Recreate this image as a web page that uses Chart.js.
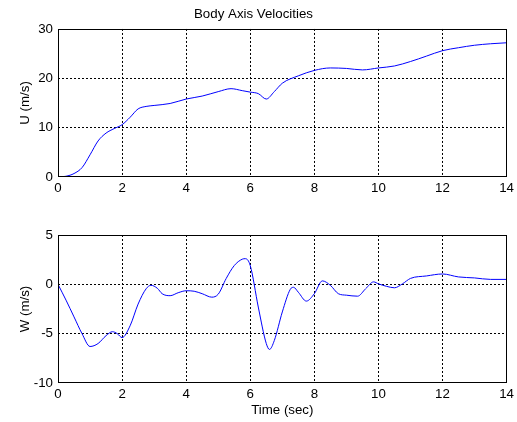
<!DOCTYPE html>
<html>
<head>
<meta charset="utf-8">
<script src="https://cdn.jsdelivr.net/npm/chart.js@4/dist/chart.umd.min.js"></script>
<style>
  html, body { margin: 0; padding: 0; background: #fff; }
  #wrap { position: relative; width: 517px; height: 422px; }
  #cU { position: absolute; left: 0; top: 0; }
  #cW { position: absolute; left: 0; top: 205px; }
</style>
</head>
<body>
<div id="wrap">
  <canvas id="cU" width="517" height="205"></canvas>
  <canvas id="cW" width="517" height="217"></canvas>
</div>
<script>
// Forward body-axis velocity U (m/s)
const timeU = [0, 0.25, 0.5, 0.75, 1.0, 1.25, 1.5, 1.75, 2.0, 2.25, 2.5, 2.75, 3.0, 3.5, 4.0, 4.5, 5.0, 5.4, 5.75, 6.0, 6.25, 6.5, 6.75, 7.0, 7.5, 8.0, 8.5, 9.0, 9.5, 10.0, 10.5, 11.0, 11.5, 12.0, 12.5, 13.0, 13.5, 14.0];
const uValues = [0, 0.15, 0.7, 1.9, 4.5, 7.3, 8.9, 9.8, 10.6, 12.1, 13.8, 14.3, 14.5, 14.9, 15.8, 16.4, 17.3, 17.9, 17.5, 17.2, 16.9, 15.8, 17.3, 19.0, 20.5, 21.6, 22.1, 22.0, 21.7, 22.1, 22.5, 23.4, 24.5, 25.6, 26.2, 26.7, 27.0, 27.2];

// Vertical body-axis velocity W (m/s)
const timeW = [0, 0.25, 0.5, 0.75, 1.0, 1.25, 1.5, 1.7, 1.85, 2.0, 2.25, 2.5, 2.75, 2.9, 3.1, 3.25, 3.5, 3.75, 4.0, 4.25, 4.5, 4.8, 5.0, 5.25, 5.5, 5.75, 5.85, 6.0, 6.25, 6.5, 6.6, 6.75, 7.0, 7.25, 7.35, 7.5, 7.75, 8.0, 8.25, 8.5, 8.75, 9.0, 9.35, 9.6, 9.85, 10.0, 10.25, 10.5, 10.75, 11.0, 11.5, 12.0, 12.5, 13.0, 13.5, 14.0];
const wValues = [0, -1.6, -3.3, -5.0, -6.3, -6.0, -5.2, -4.8, -5.0, -5.4, -4.2, -2.0, -0.45, -0.1, -0.4, -0.95, -1.15, -0.85, -0.65, -0.7, -0.95, -1.3, -1.0, 0.6, 1.9, 2.55, 2.6, 1.9, -2.3, -6.0, -6.6, -5.7, -2.8, -0.5, -0.3, -0.8, -1.7, -0.95, 0.35, -0.1, -0.95, -1.1, -1.2, -0.45, 0.25, 0.05, -0.2, -0.35, 0.05, 0.6, 0.85, 1.05, 0.75, 0.65, 0.5, 0.5];

// Axis ranges and tick spacing
const timeRange = [0, 14];
const timeStep = 2;
const uRange = [0, 30];
const uStep = 10;
const wRange = [-10, 5];
const wStep = 5;

const FONT = "'Liberation Sans', Arial, sans-serif";
const FSIZE = 13.3;

// Solid box round the plot area
const frame = {
  id: 'frame',
  afterDatasetsDraw(chart) {
    const a = chart.chartArea, ctx = chart.ctx;
    ctx.save();
    ctx.strokeStyle = '#000';
    ctx.lineWidth = 1;
    ctx.setLineDash([]);
    ctx.strokeRect(Math.round(a.left) + 0.5, Math.round(a.top) + 0.5,
                   Math.round(a.right - a.left) - 1, Math.round(a.bottom - a.top) - 1);
    ctx.restore();
  }
};

// Dotted grid on interior ticks only; the frame covers the edges
const interiorGrid = (c) => {
  const n = c.scale.ticks.length;
  return (c.index === 0 || c.index === n - 1) ? 'rgba(0,0,0,0)' : '#000';
};

function makeChart(id, xs, ys, yRange, yStep, yLabel, opts) {
  const pts = xs.map((x, i) => ({ x, y: ys[i] }));
  return new Chart(document.getElementById(id), {
    type: 'line',
    data: { datasets: [{
      data: pts,
      borderColor: '#0000ff',
      borderWidth: 1,
      pointRadius: 0,
      fill: false,
      cubicInterpolationMode: 'monotone'
    }]},
    options: {
      responsive: false,
      animation: false,
      events: [],
      layout: { padding: { top: opts.top, right: 10, left: 0, bottom: 0 } },
      plugins: {
        legend: { display: false },
        tooltip: { enabled: false },
        title: opts.title ? {
          display: true, text: opts.title, color: '#000',
          font: { family: FONT, size: FSIZE, weight: 'normal' },
          padding: { top: 6, bottom: 7 }
        } : { display: false }
      },
      scales: {
        x: {
          type: 'linear', min: timeRange[0], max: timeRange[1],
          afterFit(s) { s.height = opts.xHeight; },
          ticks: { stepSize: timeStep, color: '#000', padding: 3,
                   font: { family: FONT, size: FSIZE }, maxRotation: 0 },
          grid: { color: interiorGrid, lineWidth: 1, drawTicks: false },
          border: { display: false, dash: [2, 2] },
          title: opts.xTitle ? {
            display: true, text: opts.xTitle, color: '#000',
            font: { family: FONT, size: FSIZE }, padding: { top: 0, bottom: 4 }
          } : { display: false }
        },
        y: {
          min: yRange[0], max: yRange[1],
          afterFit(s) { s.width = 58; },
          ticks: { stepSize: yStep, color: '#000', padding: 5,
                   font: { family: FONT, size: FSIZE } },
          grid: { color: interiorGrid, lineWidth: 1, drawTicks: false },
          border: { display: false, dash: [2, 2] },
          title: {
            display: true, text: yLabel, color: '#000',
            font: { family: FONT, size: FSIZE }, padding: { top: 17, bottom: 0 }
          }
        }
      }
    },
    plugins: [frame]
  });
}

makeChart('cU', timeU, uValues, uRange, uStep, 'U (m/s)',
  { top: 0, xHeight: 28, title: 'Body Axis Velocities' });
makeChart('cW', timeW, wValues, wRange, wStep, 'W (m/s)',
  { top: 30, xHeight: 39, xTitle: 'Time (sec)' });
</script>
</body>
</html>
